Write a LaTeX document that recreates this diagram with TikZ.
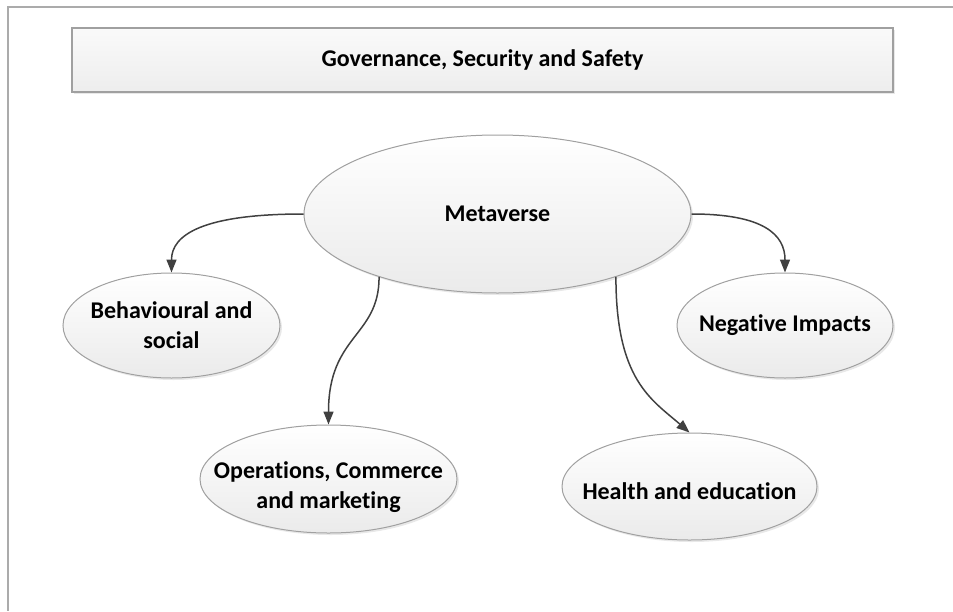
\documentclass[tikz,border=0pt]{standalone}
\usepackage{fontspec}
\setmainfont{Carlito}[Ligatures=NoCommon]
\usetikzlibrary{shapes.geometric,arrows.meta,shadows}
\definecolor{edgegray}{HTML}{A0A0A0}
\definecolor{framegray}{HTML}{ABABAB}
\definecolor{arrowgray}{HTML}{404040}
\begin{document}
\begin{tikzpicture}[x=0.5pt,y=-0.5pt,
  bubble/.style={ellipse, draw=edgegray, line width=0.5pt, top color=white, bottom color=black!8,
    inner sep=0pt,
    drop shadow={opacity=0.18, shadow xshift=1pt, shadow yshift=-1pt}},
  banner/.style={rectangle, draw=edgegray, line width=0.6pt, top color=black!2, bottom color=black!7,
    inner sep=0pt,
    drop shadow={opacity=0.18, shadow xshift=1pt, shadow yshift=-1pt}},
  txt/.style={inner sep=0pt, align=center, font=\bfseries\fontsize{12}{15}\selectfont},
  link/.style={draw=arrowgray, line width=0.75pt, -{Triangle[length=6.5pt,width=5pt]}}]
\useasboundingbox (0,0) rectangle (953,611);
\draw[framegray, line width=0.75pt] (953,7) -- (8,7) -- (8,611);

\node[banner, minimum width=410.5pt, minimum height=32pt] (gov) at (482.5,60) {};
\node[txt] (govt) at (gov.center) {Governance, Security and Safety};

\node[bubble, minimum width=193.5pt, minimum height=79pt] (meta) at (497.5,214) {};
\node[txt] (metat) at (meta.center) {Metaverse};
\node[bubble, minimum width=108.5pt, minimum height=52.5pt] (beh) at (171.5,325.5) {};
\node[txt] (beht) at (beh.center) {Behavioural and\\social};
\node[bubble, minimum width=108pt, minimum height=52.5pt] (neg) at (785,325.5) {};
\node[txt] (negt) at (neg.center) {Negative Impacts};
\node[bubble, minimum width=128.5pt, minimum height=54pt] (ops) at (328.5,479) {};
\node[txt] (opst) at ([yshift=-4pt]ops.center) {Operations, Commerce\\and marketing};
\node[bubble, minimum width=127.5pt, minimum height=53.5pt] (hea) at (689.5,486.5) {};
\node[txt] (heat) at ([yshift=-2.5pt]hea.center) {Health and education};

\draw[link] (meta.west) .. controls +(-100,0) and +(0,-38) .. (beh.north);
\draw[link] (meta.east) .. controls +(72,0) and +(0,-38) .. (neg.north);
\draw[link] (meta.208) .. controls +(0,60) and +(0,-90) .. (ops.north);
\draw[link] (meta.332) .. controls +(0,103) and +(-38,-33) .. (hea.north);
\end{tikzpicture}
\end{document}
